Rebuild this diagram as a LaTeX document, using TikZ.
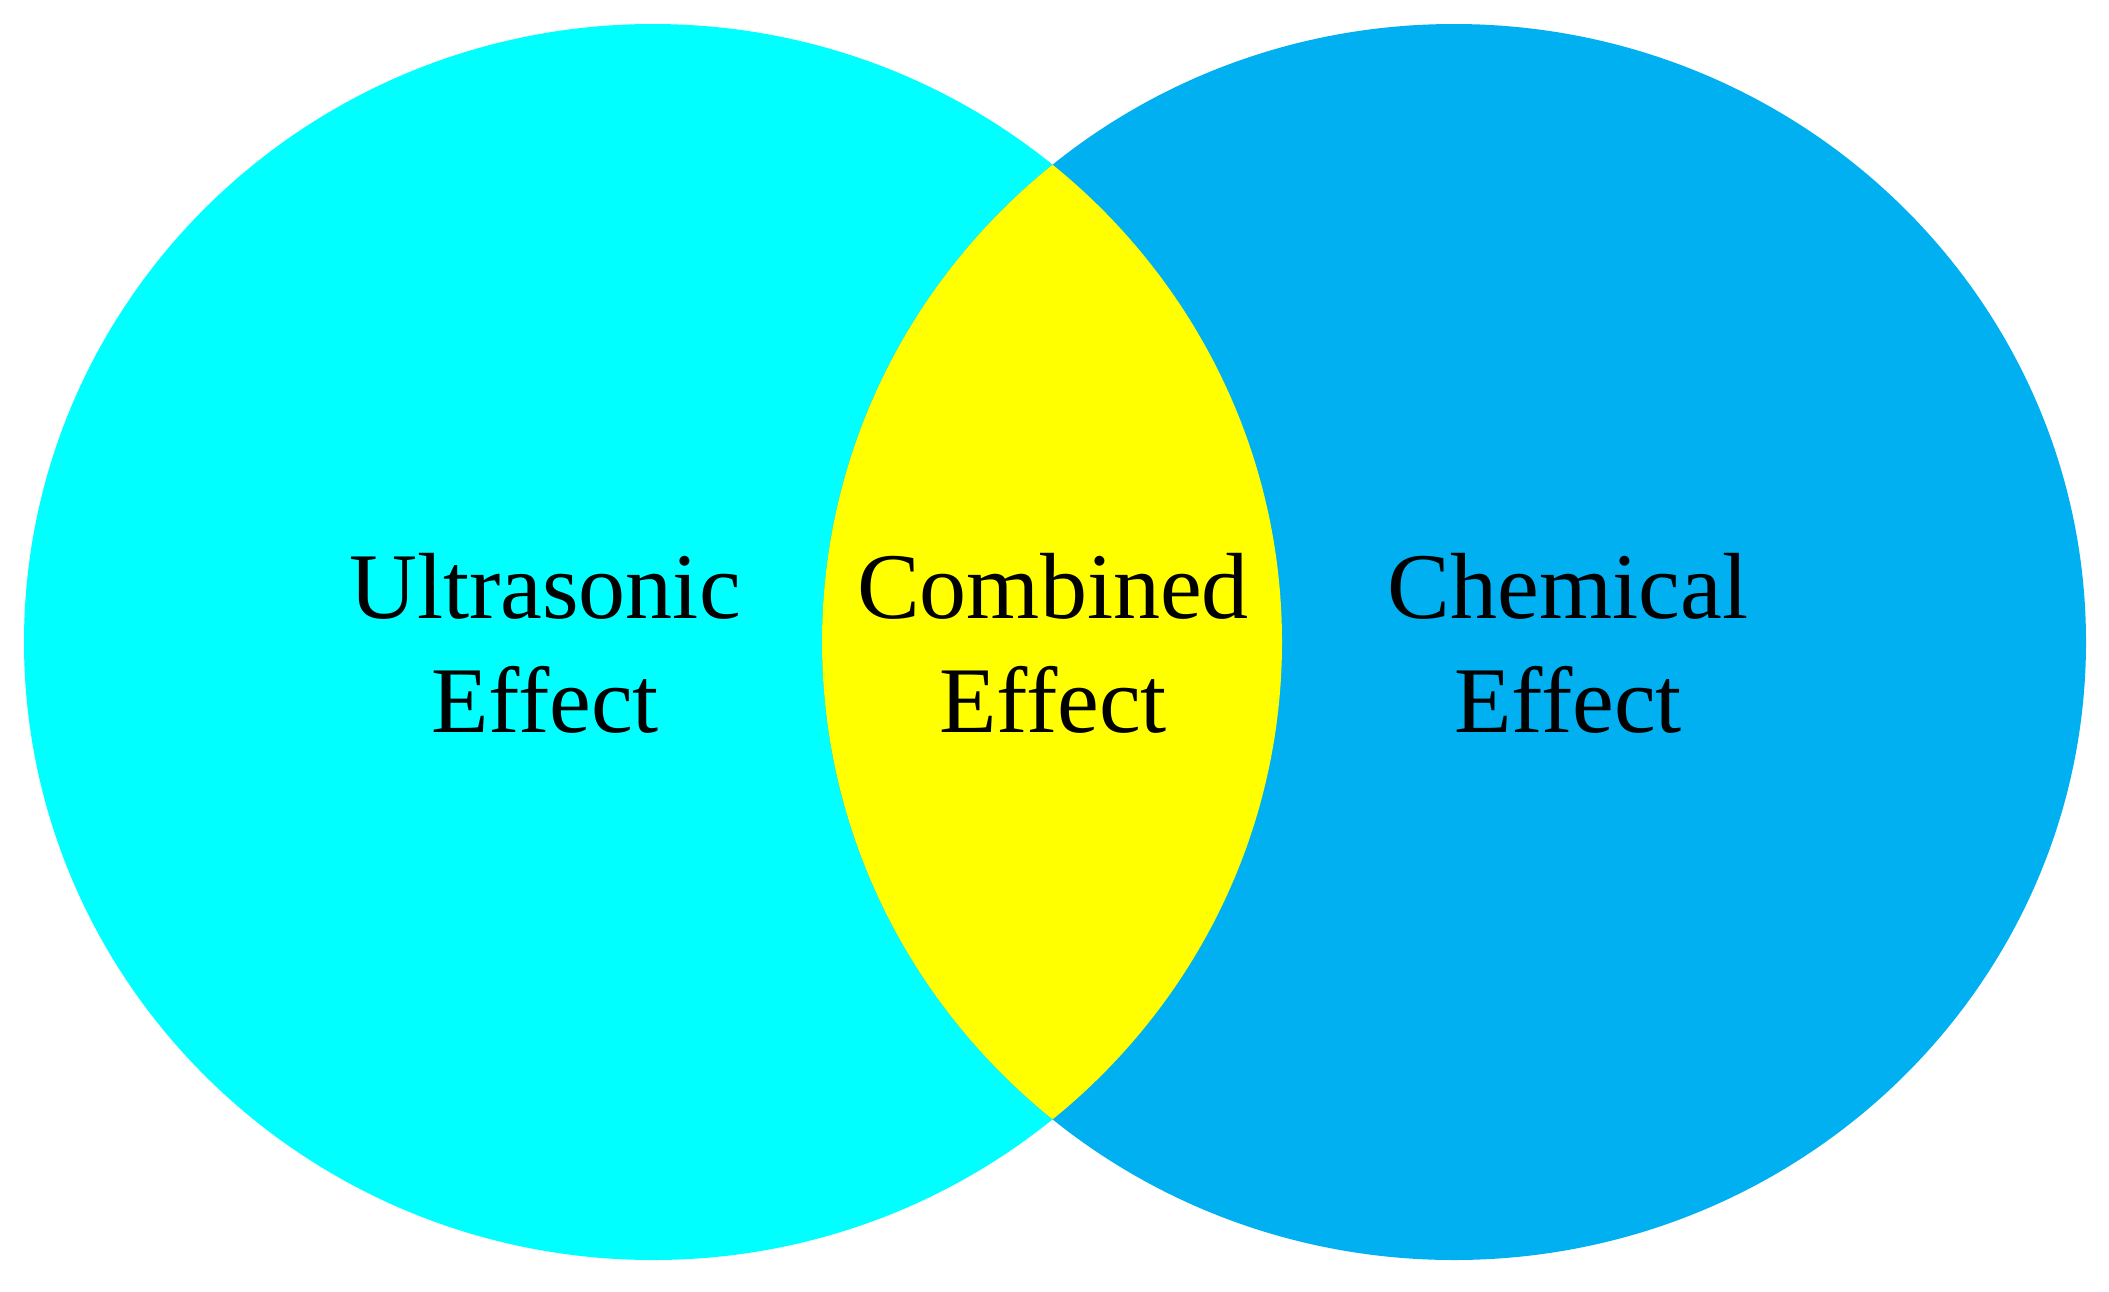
\documentclass[tikz,border=0pt]{standalone}
\usepackage{fontspec}
\setmainfont{Liberation Serif}
\definecolor{ultracyan}{HTML}{00FFFF}
\definecolor{chemblue}{HTML}{00B0F0}
\definecolor{combyellow}{HTML}{FFFF00}
\begin{document}
\begin{tikzpicture}[x=0.5pt,y=-0.5pt,
  lbl/.style={align=center,inner sep=0pt,font=\fontsize{47}{57}\selectfont,text=black}]
\useasboundingbox (0,0) rectangle (2109,1291);
\fill[ultracyan] (653,642) ellipse [x radius=629, y radius=618];
\fill[chemblue] (1454,642) ellipse [x radius=632, y radius=618];
\begin{scope}
  \clip (653,642) ellipse [x radius=629, y radius=618];
  \fill[combyellow] (1454,642) ellipse [x radius=632, y radius=618];
\end{scope}
\node[lbl] (ultra) at (545,643) {Ultrasonic\\Effect};
\node[lbl] (comb) at (1053,643) {Combined\\Effect};
\node[lbl] (chem) at (1568,643) {Chemical\\Effect};
\end{tikzpicture}
\end{document}
